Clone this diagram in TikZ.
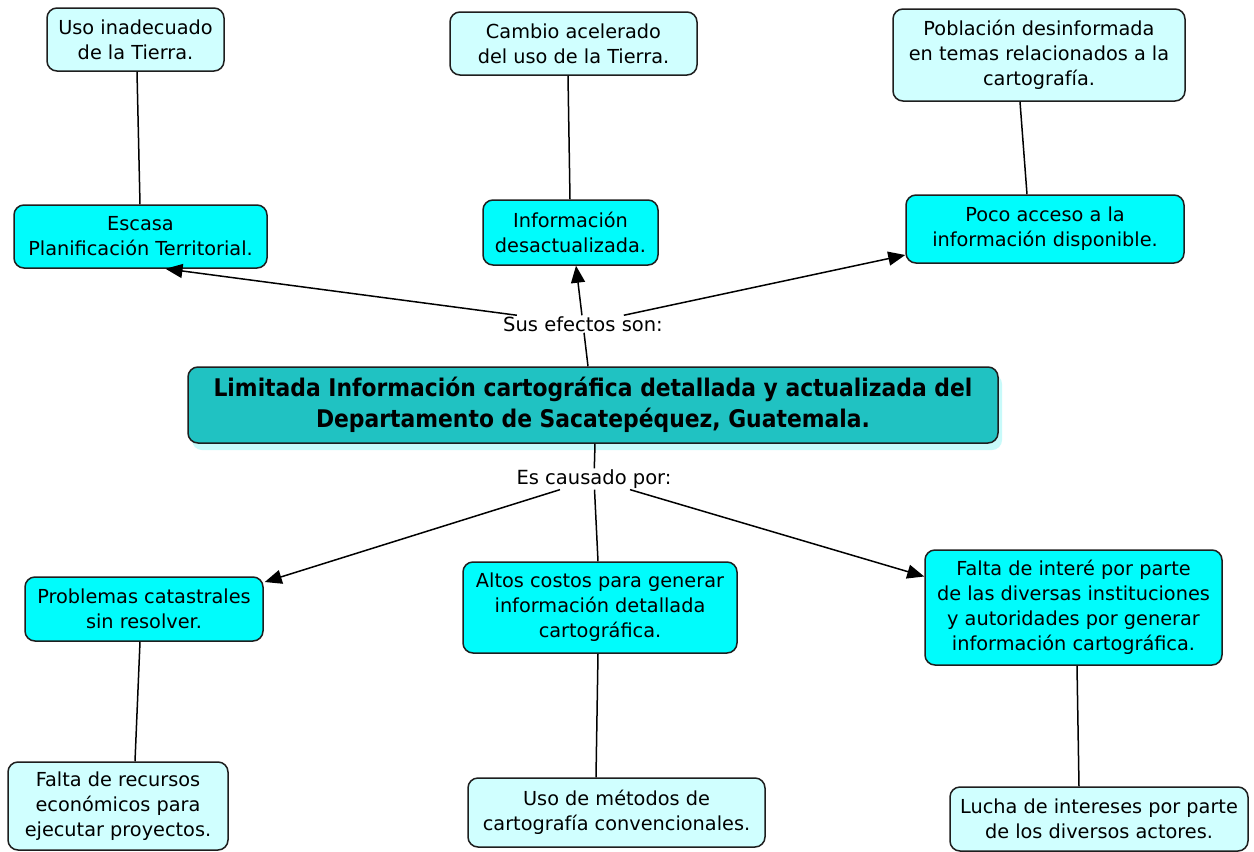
\documentclass[tikz,border=0pt]{standalone}
\usepackage{fontspec}
\setmainfont{DejaVu Sans}
\newfontfamily\mainbold{DejaVuSansCondensed-Bold.ttf}
\usetikzlibrary{arrows.meta,calc,shadows}
\definecolor{cyanbox}{RGB}{0,252,252}
\definecolor{lightcyan}{RGB}{208,255,255}
\definecolor{maincol}{RGB}{32,194,194}
\definecolor{shadowcyan}{RGB}{200,250,250}
\definecolor{edge}{RGB}{30,30,30}
\begin{document}
\begin{tikzpicture}[x=1pt,y=-1pt,
  box/.style={draw=edge, line width=1.5pt, rounded corners=10pt, align=center,
    font=\fontsize{19.3}{25}\selectfont, inner sep=0pt},
  cy/.style={box, fill=cyanbox},
  lc/.style={box, fill=lightcyan},
  mainbox/.style={box, fill=maincol, font=\mainbold\fontsize{24.3}{31}\selectfont,
    drop shadow={shadow xshift=4pt, shadow yshift=-7pt, fill=shadowcyan, opacity=1}},
  lab/.style={font=\fontsize{19.5}{25}\selectfont, inner sep=1pt},
  conn/.style={line width=1.5pt, draw=black},
  arr/.style={conn, -{Triangle[length=17pt,width=14pt]}},
]
\useasboundingbox (0,0) rectangle (1254,852);
\fill[white] (0,0) rectangle (1254,852);

% top row
\node[lc, minimum width=177pt, minimum height=63pt] (n1) at (135.5,39.5) {Uso inadecuado\\de la Tierra.};
\node[lc, minimum width=247pt, minimum height=63pt] (n2) at (573.5,43.5) {Cambio acelerado\\del uso de la Tierra.};
\node[lc, minimum width=292pt, minimum height=92pt] (n3) at (1039,55) {Población desinformada\\en temas relacionados a la\\cartografía.};

% effects
\node[cy, minimum width=253pt, minimum height=63pt] (n4) at (140.5,236.5) {Escasa\\Planificación Territorial.};
\node[cy, minimum width=175pt, minimum height=65pt] (n5) at (570.5,232.5) {Información\\desactualizada.};
\node[cy, minimum width=278pt, minimum height=68pt] (n6) at (1045,229) {Poco acceso a la\\información disponible.};

% main
\node[mainbox, minimum width=810pt, minimum height=76pt] (main) at (593,405)
  {Limitada Información cartográfica detallada y actualizada del\\Departamento de Sacatepéquez, Guatemala.};

% labels
\node[lab] (sus) at (583,324) {Sus efectos son:};
\node[lab] (cau) at (594,479) {Es causado por:};

% causes
\node[cy, minimum width=238pt, minimum height=64pt] (n10) at (144,609) {Problemas catastrales\\sin resolver.};
\node[cy, minimum width=274pt, minimum height=91pt] (n11) at (600,607.5) {Altos costos para generar\\información detallada\\cartográfica.};
\node[cy, minimum width=297pt, minimum height=115pt] (n12) at (1073.5,607.5) {Falta de interé por parte\\de las diversas instituciones\\y autoridades por generar\\información cartográfica.};

% bottom row
\node[lc, minimum width=220pt, minimum height=88pt] (n13) at (118,806) {Falta de recursos\\económicos para\\ejecutar proyectos.};
\node[lc, minimum width=297pt, minimum height=69pt] (n14) at (616.5,812.5) {Uso de métodos de\\cartografía convencionales.};
\node[lc, minimum width=298pt, minimum height=64pt] (n15) at (1099,819) {Lucha de intereses por parte\\de los diversos actores.};

% plain links
\draw[conn] ($(n1.south)+(1.5,0)$) -- ($(n4.north)+(-0.5,0)$);
\draw[conn] ($(n2.south)+(-5.5,0)$) -- ($(n5.north)+(-0.5,0)$);
\draw[conn] ($(n3.south)+(-19,0)$) -- ($(n6.north)+(-18,0)$);
\draw[conn] ($(n10.south)+(-4,0)$) -- ($(n13.north)+(17,0)$);
\draw[conn] ($(n11.south)+(-2,0)$) -- ($(n14.north)+(-20.5,0)$);
\draw[conn] ($(n12.south)+(3.5,0)$) -- ($(n15.north)+(-20,0)$);

% effects links
\draw[conn] ($(main.north)+(-5,0)$) -- (sus);
\draw[arr] (sus) -- ($(n4.south)+(25,0)$);
\draw[arr] (sus) -- ($(n5.south)+(5.5,0)$);
\draw[arr] (sus) -- ($(n6.west)+(0,26)$);

% cause links
\draw[conn] ($(main.south)+(2,0)$) -- (cau);
\draw[arr] (cau) -- ($(n10.east)+(1,-27)$);
\draw[conn] (cau) -- ($(n11.north)+(-2,0)$);
\draw[arr] (cau) -- ($(n12.west)+(0,-31)$);
\end{tikzpicture}
\end{document}
